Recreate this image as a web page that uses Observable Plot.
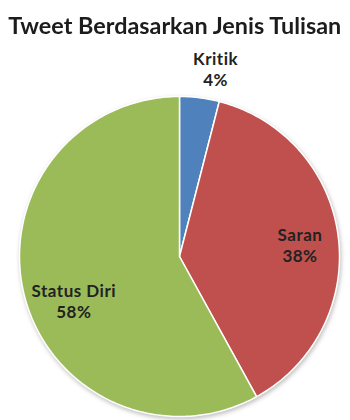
<!DOCTYPE html>
<html><head><meta charset="utf-8">
<script src="https://cdn.jsdelivr.net/npm/d3@7"></script>
<script src="https://cdn.jsdelivr.net/npm/@observablehq/plot@0.6"></script>
<style>
html,body{margin:0;padding:0;background:#fff;}
#chart{width:350px;height:420px;position:relative;overflow:hidden;background:#fff;}
#title{position:absolute;left:0;top:13px;width:350px;text-align:center;font-family:Lato,"Open Sans",sans-serif;font-weight:bold;font-size:22px;line-height:26px;color:#1c1c1c;white-space:nowrap;}
#title span{display:inline-block;transform-origin:center;}
#plot{position:absolute;left:0;top:44px;}
</style></head>
<body>
<div id="chart"><div id="title"><span id="tspan"></span></div><div id="plot"></div></div>
<script>
const title = "Tweet Berdasarkan Jenis Tulisan";
const categories = ["Kritik", "Saran", "Status Diri"];
const values = [4, 38, 58];
const colors = ["#4F81BD", "#C0504D", "#9BBB59"];

// title
const tspan = document.getElementById("tspan");
tspan.textContent = title;
const w = tspan.getBoundingClientRect().width;
tspan.style.transform = `scaleX(${333 / w})`;

const total = d3.sum(values);
let acc = 0;
const slices = categories.map((c, i) => {
  const a0 = acc / total * 2 * Math.PI;
  acc += values[i];
  const a1 = acc / total * 2 * Math.PI;
  return {c, v: values[i], a0, a1};
});

const pts = [];
for (const s of slices) {
  pts.push({c: s.c, x: 0, y: 0});
  const n = Math.max(2, Math.ceil((s.a1 - s.a0) / (Math.PI / 180)));
  for (let k = 0; k <= n; k++) {
    const a = s.a0 + (s.a1 - s.a0) * k / n;
    pts.push({c: s.c, x: Math.sin(a), y: Math.cos(a)});
  }
}

// label nudges in pixels (Excel "best fit" placement)
const nudge = {"Kritik": [12, 3], "Saran": [3, 3], "Status Diri": [9, 15]};
const labels = slices.map(s => {
  const m = (s.a0 + s.a1) / 2;
  const r = s.v < 10 ? 1.2 : 0.74;
  return {c: s.c, text: `${s.c}\n${s.v}%`, x: r * Math.sin(m), y: r * Math.cos(m)};
});

const W = 350, H = 376, R = 160, cx = 179, cy = 212;
const chart = Plot.plot({
  width: W, height: H,
  margin: 0,
  x: {domain: [-cx / R, (W - cx) / R], axis: null},
  y: {domain: [-(H - cy) / R, cy / R], axis: null},
  color: {domain: categories, range: colors},
  style: {background: "white"},
  marks: [
    Plot.line(pts, {x: "x", y: "y", z: "c", fill: "c", stroke: "white", strokeWidth: 1.5, curve: "linear-closed"}),
    ...labels.map(l => Plot.text([l], {x: "x", y: "y", text: "text", dx: nudge[l.c][0], dy: nudge[l.c][1], fontSize: 17, fontWeight: "bold", lineHeight: 1.25, fill: "#222", fontFamily: "Lato, sans-serif"}))
  ]
});
const lineG = chart.querySelector('g[aria-label="line"]');
if (lineG) lineG.style.filter = "drop-shadow(1px 2px 2px rgba(0,0,0,0.25))";
chart.querySelectorAll('g[aria-label="text"]').forEach(g => g.style.letterSpacing = "0.5px");
document.getElementById("plot").appendChild(chart);
</script>
</body></html>
